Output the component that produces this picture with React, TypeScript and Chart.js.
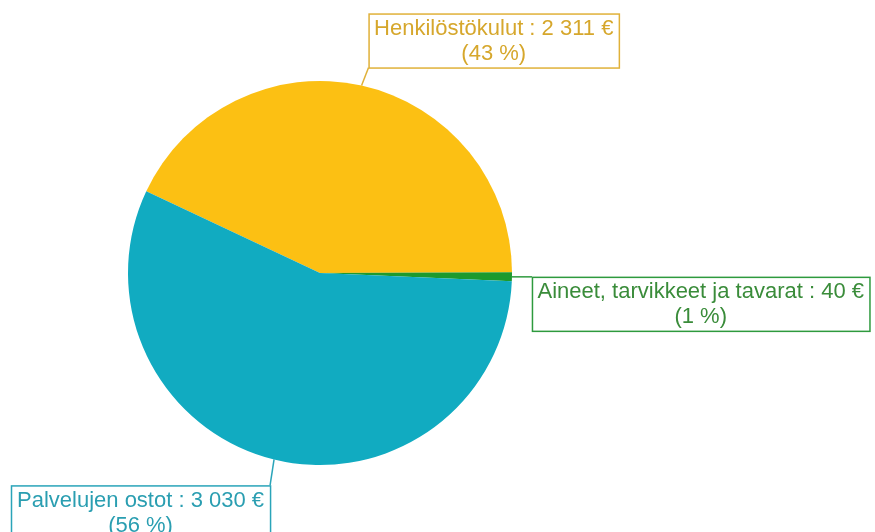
import React, { useEffect, useRef } from "react";
import { Chart, registerables } from "chart.js";

Chart.register(...registerables);

const categories = ["Henkilöstökulut", "Aineet, tarvikkeet ja tavarat", "Palvelujen ostot"];
const amounts = [2311, 40, 3030];
const amountLabels = ["2 311 €", "40 €", "3 030 €"];
const percentLabels = ["(43 %)", "(1 %)", "(56 %)"];
const sliceColors = ["#FCC013", "#1C9A2E", "#11ABC1"];
const textColors = ["#D6A72C", "#3A8C3A", "#2A9EB1"];
const borderColors = ["#E0B139", "#2E9A3E", "#2AA4B9"];

// label box placement relative to the slice's mid-angle anchor point
const boxPlacement = [
  { corner: "bottom-left", dx: 7, dy: -18, pad: 11 },
  { corner: "top-left", dx: 20, dy: 0, pad: 11 },
  { corner: "top-right", dx: -4, dy: 26, pad: 12 },
];

const FONT_SIZE = 22;
const LINE_H = 25;

const calloutPlugin = {
  id: "callouts",
  afterDraw(chart: any) {
    const ctx = chart.ctx;
    const meta = chart.getDatasetMeta(0);
    ctx.save();
    ctx.font = `${FONT_SIZE}px "Liberation Sans", Arial, sans-serif`;
    meta.data.forEach((arc: any, i: number) => {
      const p = arc.getProps(["x", "y", "startAngle", "endAngle", "outerRadius"], true);
      const mid = (p.startAngle + p.endAngle) / 2;
      const ax = p.x + Math.cos(mid) * p.outerRadius;
      const ay = p.y + Math.sin(mid) * p.outerRadius;
      const line1 = `${categories[i]} : ${amountLabels[i]}`;
      const line2 = percentLabels[i];
      const pl = boxPlacement[i];
      const w = Math.max(ctx.measureText(line1).width, ctx.measureText(line2).width) + pl.pad;
      const h = LINE_H * 2 + 4;
      const cx = ax + pl.dx;
      const cy = ay + pl.dy;
      let left = cx, top = cy;
      if (pl.corner === "bottom-left") { left = cx; top = cy - h; }
      if (pl.corner === "top-left") { left = cx; top = cy; }
      if (pl.corner === "top-right") { left = cx - w; top = cy; }
      // leader line
      ctx.strokeStyle = borderColors[i];
      ctx.lineWidth = 1.5;
      ctx.beginPath();
      ctx.moveTo(ax, ay);
      ctx.lineTo(cx, cy);
      ctx.stroke();
      // box
      ctx.fillStyle = "#ffffff";
      ctx.fillRect(left, top, w, h);
      ctx.strokeRect(left + 0.5, top + 0.5, w, h);
      // text
      ctx.fillStyle = textColors[i];
      ctx.textAlign = "center";
      ctx.textBaseline = "middle";
      ctx.fillText(line1, left + w / 2, top + 2 + LINE_H / 2 + 1);
      ctx.fillText(line2, left + w / 2, top + 2 + LINE_H * 1.5 + 1);
    });
    ctx.restore();
  },
};

export default function App() {
  const ref = useRef<HTMLCanvasElement | null>(null);
  useEffect(() => {
    if (!ref.current) return;
    const chart = new Chart(ref.current, {
      type: "pie",
      data: {
        labels: categories,
        datasets: [
          {
            data: amounts,
            backgroundColor: sliceColors,
            borderWidth: 0,
          },
        ],
      },
      options: {
        animation: false,
        responsive: false,
        rotation: -64.8,
        layout: { padding: { left: 128, right: 363, top: 81, bottom: 67 } },
        plugins: {
          legend: { display: false },
          tooltip: { enabled: false },
        },
      },
      plugins: [calloutPlugin],
    });
    return () => chart.destroy();
  }, []);
  return (
    <div style={{ position: "fixed", left: 0, top: 0, width: 875, height: 532, background: "#fff" }}>
      <canvas ref={ref} width={875} height={532} style={{ display: "block" }} />
    </div>
  );
}
